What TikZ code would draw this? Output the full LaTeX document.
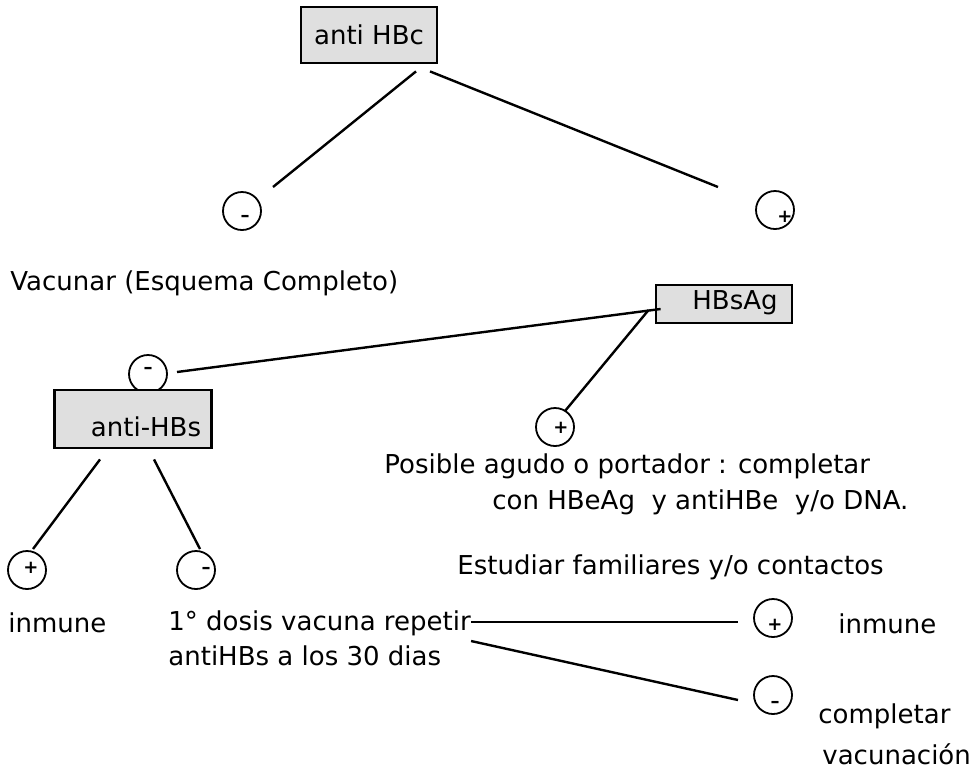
\documentclass[tikz,border=0pt]{standalone}
\usepackage{fontspec}
\setmainfont{DejaVu Sans}
\usepackage{tikz}
\usetikzlibrary{calc,positioning}
\tikzstyle{shaded}=[fill=gray!25!white]
\tikzstyle{testbox}=[draw, line width=1.4pt, shaded, inner sep=0pt]
\tikzstyle{result}=[draw, circle, line width=0.9pt, minimum size=19pt, inner sep=0pt]
\tikzstyle{sign}=[font=\small\bfseries, inner sep=0pt]
\tikzstyle{link}=[line width=1.2pt]
\tikzstyle{note}=[anchor=west, inner sep=0pt]
\newcommand{\rcircle}[4]{
 \node[result] (#1) at #2 {};
 \node[sign] (#1s) at ($#2+#4$) {#3};
}

\begin{document}
\begin{tikzpicture}[x=.5pt, y=-.5pt, font=\fontsize{13}{15}\selectfont]
 \useasboundingbox (0,0) rectangle (978,778);
%
 \node[testbox, minimum width=68pt, minimum height=28pt] (hbc) at (369,35) {anti HBc};
 \rcircle{hbcneg}{(242,211)}{--}{(3,7)}
 \rcircle{hbcpos}{(775,210)}{+}{(10,7)}
 \draw[link] ($(hbc.south)+(47,7)$) -- ($(hbcneg)+(31,-24)$);
 \draw[link] ($(hbc.south)+(61,7)$) -- ($(hbcpos)+(-57,-23)$);
 \node[note] (vac) at (10,283) {Vacunar (Esquema Completo)};
%
 \node[testbox, minimum width=68pt, minimum height=19pt] (hbs) at (724,304) {};
 \node (hbstxt) at (735,303) {HBsAg};
 \rcircle{hbsneg}{(148,374)}{--}{(0,-4)}
 \rcircle{hbspos}{(555,427)}{+}{(6,1)}
 \draw[link] ($(hbs.west)+(6,5)$) -- ($(hbsneg)+(29,-2)$);
 \draw[link] ($(hbs.west)+(-6,6)$) -- ($(hbspos)+(10,-16)$);
 \node[note] (agudo) at (384,466) {Posible agudo o portador : completar};
 \node[note] (hbe) at (492,502) {con HBeAg\ \ y antiHBe\ \ y/o DNA.};
 \node[note] (fam) at (457,567) {Estudiar familiares y/o contactos};
%
 \node[testbox, minimum width=78.5pt, minimum height=29pt] (ahbs) at (133,419) {};
 \node (ahbstxt) at (146,427) {anti-HBs};
 \rcircle{ahbspos}{(27,570)}{+}{(4,-2)}
 \rcircle{ahbsneg}{(196,570)}{--}{(10,0)}
 \draw[link] ($(ahbs.south)+(-33,10)$) -- ($(ahbspos)+(6,-21)$);
 \draw[link] ($(ahbs.south)+(21,10)$) -- ($(ahbsneg)+(4,-21)$);
 \node[note] (inm) at (8,623) {inmune};
 \node[note] (rep) at (168,623) {1° dosis vacuna repetir};
 \node[note] (rep2) at (168,656) {antiHBs a los 30 dias};
%
 \rcircle{reppos}{(773,618)}{+}{(2,7)}
 \rcircle{repneg}{(773,695)}{--}{(2,9)}
 \draw[link] ($(rep.east)+(0,-1)$) -- ($(reppos)+(-35,4)$);
 \draw[link] ($(rep.east)+(0,18)$) -- ($(repneg)+(-35,5)$);
 \node[note] (inm2) at (838,624) {inmune};
 \node[note] (compl) at (818,716) {completar};
 \node[note] (vacn) at (822,754) {vacunación};
\end{tikzpicture}
\end{document}
